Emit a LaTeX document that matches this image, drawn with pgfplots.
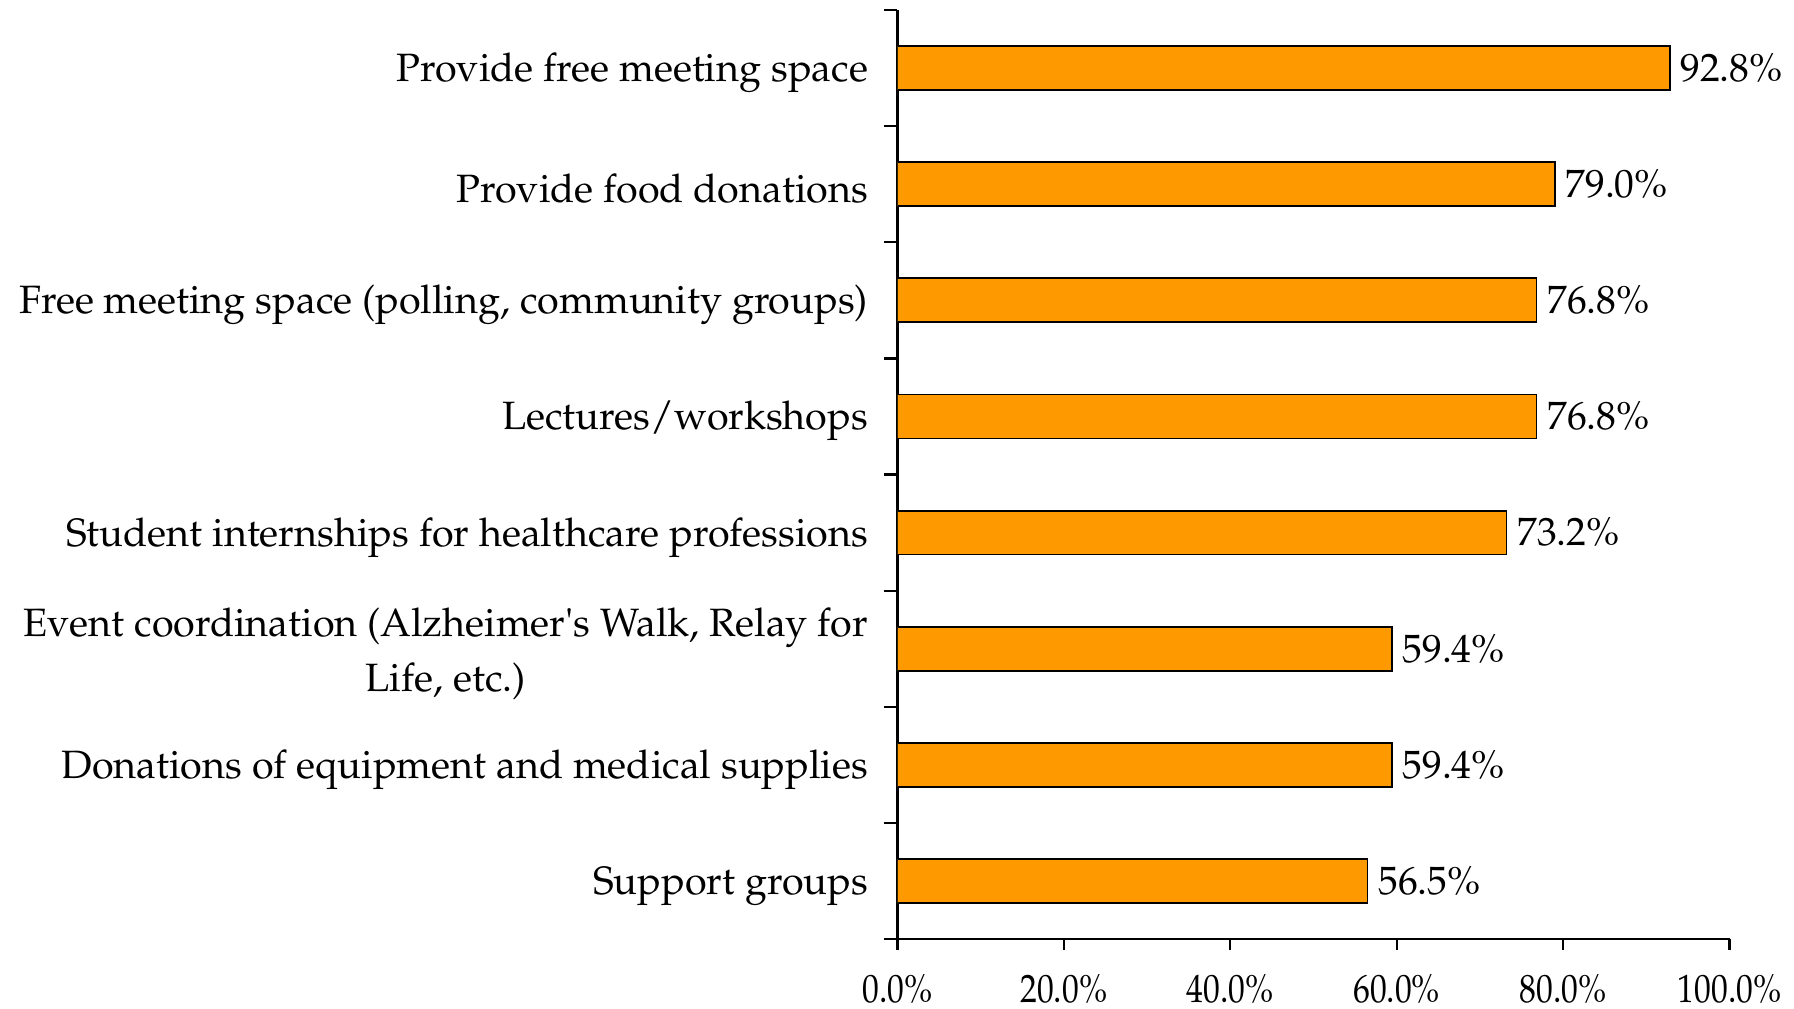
\documentclass[border=0pt]{standalone}
\usepackage[T1]{fontenc}
\usepackage{mathpazo}
\usepackage{pgfplots}
\pgfplotsset{compat=1.18}
\definecolor{barorange}{RGB}{255,153,0}

\begin{document}
\begin{tikzpicture}[font=\fontsize{10}{14}\selectfont]
    \begin{axis}[name=ax, scale only axis, width=210.6pt, height=235.2pt,
                xbar, bar width=11.1pt,
                xmin=0, xmax=100, ymin=-0.5, ymax=7.5,
                axis x line*=bottom, axis y line*=left,
                axis line style={line width=0.6pt},
                tick align=outside,
                tick style={black, line width=0.6pt},
                xtick={0,20,...,100},
                major tick length=2.6pt,
                xticklabel={\scalebox{0.85}[1]{\pgfmathprintnumber[fixed,fixed zerofill,precision=1]{\tick}\%}},
                xticklabel style={yshift=-2.9pt},
                ytick={0,...,7},
                yticklabels={Support groups,
                    Donations of equipment and medical supplies,
                    {Event coordination (Alzheimer\textquotesingle s Walk, Relay for\\Life, etc.)},
                    Student internships for healthcare professions,
                    Lectures/workshops,
                    {Free meeting space (polling, community groups)},
                    Provide food donations,
                    Provide free meeting space},
                yticklabel style={align=center, xshift=-1.3pt, yshift=-1.2pt},
                major y tick style={draw=none},
                minor ytick={-0.5,0.5,...,7.5},
                minor tick length=3.3pt,
                point meta=x,
                nodes near coords={\pgfmathprintnumber[fixed,fixed zerofill,precision=1]{\pgfplotspointmeta}\%},
                nodes near coords style={inner sep=2.5pt, black},
                ]
        \addplot[fill=barorange, draw=black, line width=0.45pt] coordinates {
            (56.5,0) (59.4,1) (59.4,2) (73.2,3) (76.8,4) (76.8,5) (79.0,6) (92.8,7)};
    \end{axis}
    \pgfresetboundingbox
    \path ([shift={(-227.1pt,-17.6pt)}]ax.south west)
        rectangle ([shift={(16.3pt,2.5pt)}]ax.north east);
\end{tikzpicture}
\end{document}
